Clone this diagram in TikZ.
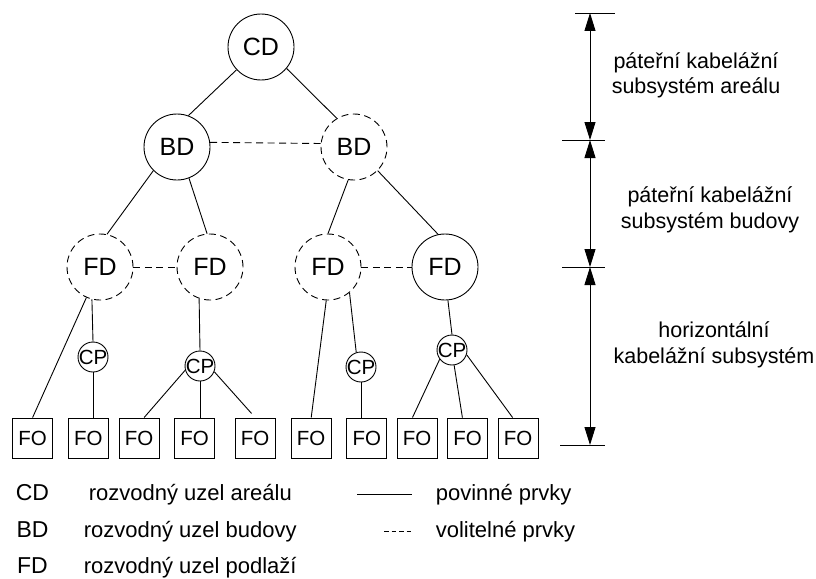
\documentclass[tikz,border=0pt]{standalone}
\usepackage{fontspec}
\setmainfont{Liberation Sans}
\usetikzlibrary{arrows.meta}

\begin{document}
\begin{tikzpicture}[x=1pt, y=-1pt, line width=0.9pt,
  bignode/.style={circle, draw, minimum size=66pt, inner sep=0pt,
    font=\fontsize{25}{25}\selectfont},
  cpnode/.style={circle, draw, minimum size=30pt, inner sep=0pt,
    font=\fontsize{20.5}{20.5}\selectfont},
  fonode/.style={draw, minimum size=40pt, inner sep=0pt,
    font=\fontsize{20.5}{20.5}\selectfont},
  optional/.style={dash pattern=on 7pt off 4.5pt},
  sidelabel/.style={align=center, font=\fontsize{21.5}{25.5}\selectfont},
  legabbr/.style={anchor=base, font=\fontsize{23}{23}\selectfont},
  legtext/.style={anchor=base west, font=\fontsize{22}{22}\selectfont},
  span/.style={{Triangle[length=18pt,width=11pt]}-{Triangle[length=18pt,width=11pt]}},
]
\path[use as bounding box] (0,0) rectangle (816,578);

% distributors
\node[bignode] (cd) at (261,47) {CD};
\node[bignode] (bd1) at (177,147) {BD};
\node[bignode, optional] (bd2) at (354,147) {BD};
\node[bignode, optional] (fd1) at (100,267) {FD};
\node[bignode, optional] (fd2) at (210,267) {FD};
\node[bignode, optional] (fd3) at (328,267) {FD};
\node[bignode] (fd4) at (445,267) {FD};

% consolidation points
\node[cpnode] (cp1) at (93,357) {\makebox[0pt]{CP}};
\node[cpnode] (cp2) at (200,366) {\makebox[0pt]{CP}};
\node[cpnode] (cp3) at (361,367) {\makebox[0pt]{CP}};
\node[cpnode] (cp4) at (452,350) {\makebox[0pt]{CP}};

% outlets
\node[fonode] (fo1) at (32.6,438) {FO};
\node[fonode] (fo2) at (88.3,438) {FO};
\node[fonode] (fo3) at (139,438) {FO};
\node[fonode] (fo4) at (194.6,438) {FO};
\node[fonode] (fo5) at (255.2,438) {FO};
\node[fonode] (fo6) at (311.2,438) {FO};
\node[fonode] (fo7) at (366.9,438) {FO};
\node[fonode] (fo8) at (417.2,438) {FO};
\node[fonode] (fo9) at (467.5,438) {FO};
\node[fonode] (fo10) at (518.1,438) {FO};

% mandatory cabling
\draw (cd.223) -- (bd1.70);
\draw (cd.320) -- (bd2.121);
\draw (bd1.225) -- (fd1.78);
\draw (bd1.291) -- (fd2.95);
\draw (bd2.260) -- (fd3.90);
\draw (bd2.315) -- (fd4.102);
\draw (fd1.246) -- (fo1.north);
\draw (fd1.256.5) -- (cp1.north);
\draw (cp1.south) -- (cp1.south |- fo2.north);
\draw (fd2.251.8) -- (cp2.north);
\draw (cp2.196) -- (fo3.76);
\draw (cp2.south) -- (cp2.south |- fo4.north);
\draw[shorten >=5.5pt] (cp2.-22) -- (fo5.north);
\draw (fd3.267) -- (fo6.north);
\draw (fd3.310) -- (cp3.108);
\draw (cp3.south) -- (cp3.south |- fo7.north);
\draw (fd4.275) -- (cp4.north);
\draw (cp4.217) -- (fo8.103);
\draw (cp4.278) -- (fo9.104);
\draw (cp4.342) -- (fo10.105);

% optional cabling
\draw[optional] (bd1.8) -- (bd2.174);
\draw[optional] (fd1.east) -- (fd2.west);
\draw[optional] (fd3.east) -- (fd4.west);

% subsystem extents
\coordinate (d0) at (590,13);
\coordinate (d1) at (590,140);
\coordinate (d2) at (590,267);
\coordinate (d3) at (590,445);
\draw ([xshift=-15pt]d0) -- ([xshift=25pt]d0);
\draw ([xshift=-28pt]d1) -- ([xshift=15pt]d1);
\draw ([xshift=-28pt]d2) -- ([xshift=15pt]d2);
\draw ([xshift=-30pt]d3) -- ([xshift=15pt]d3);
\draw[span] (d0) -- (d1);
\draw[span] (d1) -- (d2);
\draw[span] (d2) -- (d3);
\node[sidelabel] (s1) at (696,75.5) {páteřní kabelážní\\subsystém areálu};
\node[sidelabel] (s2) at (710,210) {páteřní kabelážní\\subsystém budovy};
\node[sidelabel] (s3) at (714,345) {horizontální\\kabelážní subsystém};

% legend
\node[legabbr] (lcd) at (32.5,500) {CD};
\node[legabbr] (lbd) at (32.5,537) {BD};
\node[legabbr] (lfd) at (32.5,573) {FD};
\node[legtext] (tcd) at (85,500) {rozvodný uzel areálu};
\node[legtext] (tbd) at (80,537) {rozvodný uzel budovy};
\node[legtext] (tfd) at (80,573) {rozvodný uzel podlaží};
\coordinate (ls0) at (357,494);
\coordinate (ls1) at (412,494);
\coordinate (lo0) at (384,531);
\coordinate (lo1) at (411,531);
\draw (ls0) -- (ls1);
\draw[dash pattern=on 4.5pt off 3pt] (lo0) -- (lo1);
\node[legtext] (tman) at (432,500) {povinné prvky};
\node[legtext] (topt) at (432,537) {volitelné prvky};
\end{tikzpicture}
\end{document}
